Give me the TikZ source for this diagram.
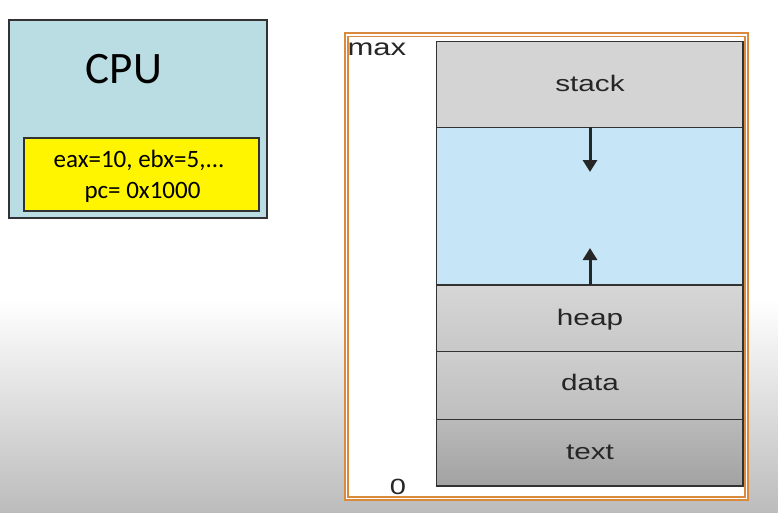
\documentclass[tikz,border=0pt]{standalone}
\usepackage{fontspec}
\newfontfamily\memfont{Liberation Sans}
\newfontfamily\cpufont{Carlito}
\usetikzlibrary{arrows.meta}
\definecolor{cpublue}{RGB}{185,221,227}
\definecolor{regyellow}{RGB}{255,245,0}
\definecolor{freeblue}{RGB}{198,230,248}
\definecolor{frameorange}{RGB}{218,138,60}
\definecolor{edgegray}{RGB}{50,50,50}
\newcommand\wide[1]{\scalebox{1.32}[1]{#1}}
\tikzset{
  box/.style={draw=edgegray, line width=1.5pt, inner sep=0pt, outer sep=0pt, anchor=north west},
  seg/.style={box, minimum width=306.3pt},
  memlabel/.style={anchor=base, inner sep=0pt, font=\memfont\fontsize{22.5}{27}\selectfont, text=black!85},
  cputext/.style={inner sep=0pt, font=\cpufont\fontsize{25}{31}\selectfont, align=center},
  growarrow/.style={-{Triangle[length=12pt,width=14pt]}, line width=3pt, black!85}
}
\begin{document}
\begin{tikzpicture}[x=1pt,y=-1pt]
\useasboundingbox (0,0) rectangle (778,512);
% background
\fill[white] (0,0) rectangle (778,300);
\shade[top color=white, bottom color={rgb,255:red,188;green,188;blue,188}] (0,300) rectangle (778,512);
% CPU
\node[box, fill=cpublue, minimum width=258pt, minimum height=198pt] (cpu) at (9,20) {};
\node[anchor=base, inner sep=0pt, font=\cpufont\fontsize{45}{50}\selectfont] (cpulabel) at (124,83) {CPU};
\node[box, fill=regyellow, minimum width=235pt, minimum height=73pt] (regs) at (24,138) {};
\node[cputext, anchor=base] (reg1) at (139,167) {eax=10, ebx=5,...};
\node[cputext, anchor=base] (reg2) at (142.5,198) {pc= 0x1000};
% memory frame
\node[draw=frameorange, double=white, double distance=1.4pt, line width=1.8pt, fill=white,
      inner sep=0pt, minimum width=400pt, minimum height=463.5pt, anchor=north west] (frame) at (345.5,34) {};
% segments
\node[seg, fill={rgb,255:red,212;green,212;blue,212}, minimum height=85.6pt] (stack) at (436.7,41.7) {};
\node[seg, fill=freeblue, minimum height=157.7pt] (free) at (436.7,127.3) {};
\node[seg, top color={rgb,255:red,214;green,214;blue,214}, bottom color={rgb,255:red,200;green,200;blue,200}, minimum height=66.7pt] (heap) at (436.7,285) {};
\node[seg, top color={rgb,255:red,206;green,206;blue,206}, bottom color={rgb,255:red,190;green,190;blue,190}, minimum height=67.6pt] (data) at (436.7,351.7) {};
\node[seg, top color={rgb,255:red,186;green,186;blue,186}, bottom color={rgb,255:red,162;green,162;blue,162}, minimum height=66.7pt] (text) at (436.7,419.3) {};
% labels
\node[memlabel] (stacklbl) at (590,91) {\wide{stack}};
\node[memlabel] (heaplbl) at (590,325) {\wide{heap}};
\node[memlabel] (datalbl) at (590,390.5) {\wide{data}};
\node[memlabel] (textlbl) at (590,459) {\wide{text}};
\node[memlabel, anchor=base west, font=\memfont\fontsize{23.5}{27}\selectfont] (maxlbl) at (347.3,55) {\wide{max}};
\node[memlabel, font=\memfont\fontsize{22}{27}\selectfont] (zerolbl) at (398,494) {\wide{0}};
% growth arrows
\coordinate (downtip) at (590,172);
\coordinate (uptip) at (590,248);
\draw[growarrow] (stack.south -| downtip) -- (downtip);
\draw[growarrow] (heap.north -| uptip) -- (uptip);
\end{tikzpicture}
\end{document}
